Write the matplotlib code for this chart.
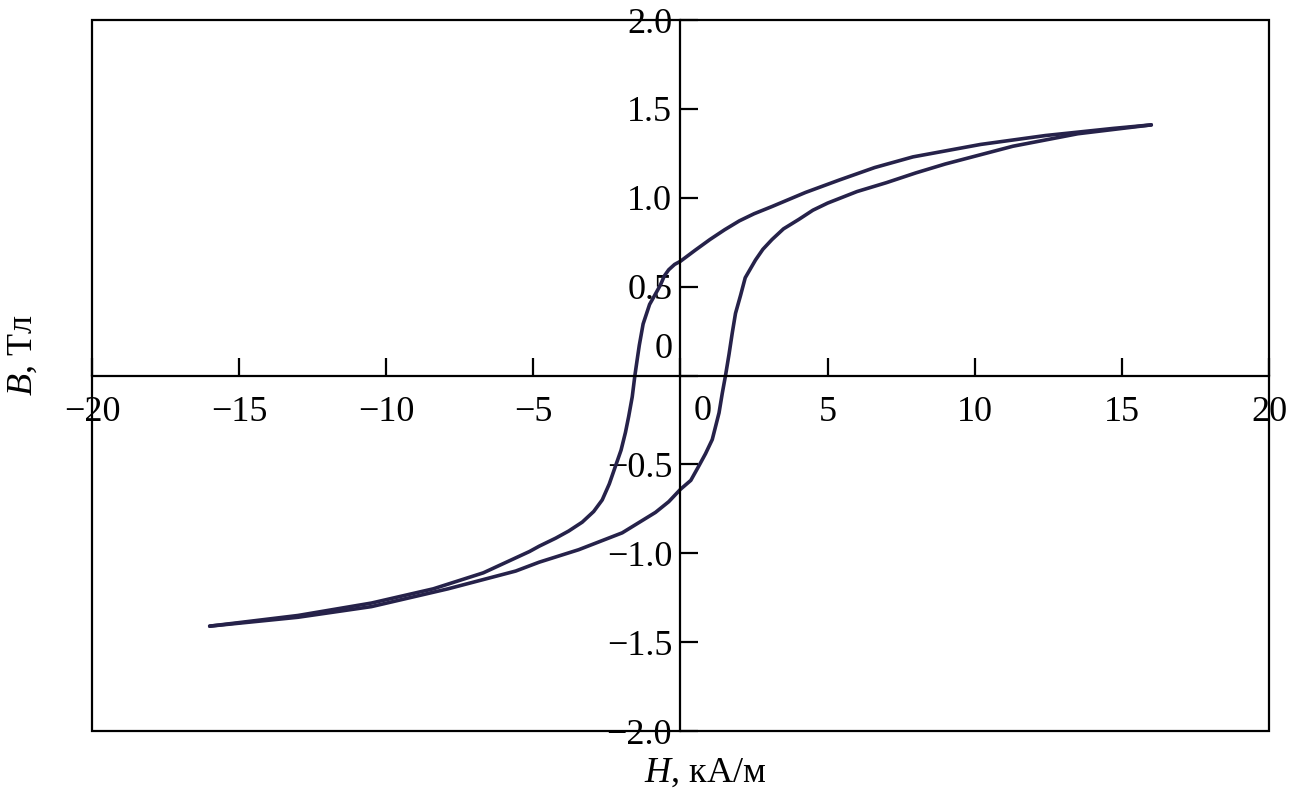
import matplotlib
matplotlib.use("Agg")
import matplotlib.pyplot as plt
from matplotlib.patches import Rectangle
from matplotlib.ticker import FixedLocator, FuncFormatter

plt.rcParams['font.family'] = ['Liberation Serif', 'DejaVu Serif']
plt.rcParams['mathtext.fontset'] = 'custom'
plt.rcParams['mathtext.rm'] = 'Liberation Serif'
plt.rcParams['mathtext.it'] = 'Liberation Serif:italic'

# descending branch (upper), from +Hmax to -Hmax, H in kA/m, B in T
h_down = [16.0, 14.7, 12.4, 10.2, 7.9, 6.6, 5.4, 4.25, 3.1, 2.5, 2.0, 1.5, 1.0,
          0.5, 0.0, -0.2, -0.4, -0.55, -0.68, -0.88, -1.05, -1.27, -1.40, -1.48,
          -1.55, -1.64, -1.76, -1.87, -2.02, -2.21, -2.42, -2.66, -2.95, -3.34,
          -3.8, -4.24, -4.8, -5.13, -6.7, -8.4, -10.5, -13.0, -16.0]
b_down = [1.41, 1.39, 1.35, 1.30, 1.23, 1.17, 1.10, 1.03, 0.95, 0.91, 0.87, 0.82,
          0.765, 0.705, 0.643, 0.625, 0.595, 0.56, 0.51, 0.45, 0.40, 0.29, 0.17,
          0.08, 0.0, -0.12, -0.23, -0.32, -0.42, -0.51, -0.61, -0.70, -0.765,
          -0.825, -0.875, -0.915, -0.96, -0.99, -1.11, -1.20, -1.28, -1.35, -1.41]

# ascending branch (lower), from -Hmax to +Hmax
h_up = [-16.0, -13.0, -10.5, -7.9, -5.6, -4.8, -3.46, -1.98, -0.85, -0.4, 0.0,
        0.35, 0.62, 0.85, 1.08, 1.31, 1.42, 1.53, 1.65, 1.76, 1.87, 2.04, 2.2,
        2.55, 2.8, 3.11, 3.5, 4.02, 4.5, 5.0, 6.0, 7.0, 8.0, 9.0, 11.3, 13.5, 16.0]
b_up = [-1.41, -1.36, -1.30, -1.20, -1.10, -1.05, -0.98, -0.885, -0.77, -0.71,
        -0.64, -0.59, -0.51, -0.44, -0.36, -0.21, -0.10, 0.0, 0.12, 0.24, 0.35,
        0.45, 0.55, 0.65, 0.71, 0.765, 0.825, 0.878, 0.93, 0.97, 1.035, 1.085,
        1.14, 1.19, 1.29, 1.36, 1.41]

x_ticks = [-20, -15, -10, -5, 0, 5, 10, 15, 20]
y_ticks = [-2.0, -1.5, -1.0, -0.5, 0.0, 0.5, 1.0, 1.5, 2.0]

fig = plt.figure(figsize=(13.01, 8.10), dpi=100)
ax = fig.add_axes([0.0707, 0.0975, 0.9047, 0.8778])

line_color = '#26224a'
ax.plot(h_down, b_down, color=line_color, lw=2.6, solid_joinstyle='round',
        solid_capstyle='round')
ax.plot(h_up, b_up, color=line_color, lw=2.6, solid_joinstyle='round',
        solid_capstyle='round')

ax.set_xlim(-20, 20)
ax.set_ylim(-2.0, 2.0)

ax.spines['left'].set_position('zero')
ax.spines['bottom'].set_position('zero')
ax.spines['top'].set_visible(False)
ax.spines['right'].set_visible(False)
for s in ('left', 'bottom'):
    ax.spines[s].set_linewidth(1.6)

# outer frame
ax.add_patch(Rectangle((0, 0), 1, 1, transform=ax.transAxes, fill=False,
                       lw=1.6, edgecolor='black', clip_on=False, zorder=3))

ax.xaxis.set_major_locator(FixedLocator(x_ticks))
ax.yaxis.set_major_locator(FixedLocator(y_ticks))
ax.xaxis.set_major_formatter(FuncFormatter(
    lambda v, p: '' if v == 0 else f'{v:.0f}'.replace('-', '\u2212')))
ax.yaxis.set_major_formatter(FuncFormatter(
    lambda v, p: '' if v == 0 else f'{v:.1f}'.replace('-', '\u2212')))
ax.tick_params(axis='x', direction='in', length=13, width=1.6, labelsize=26, pad=15)
ax.tick_params(axis='y', direction='in', length=13, width=1.6, labelsize=26, pad=6)

# zero labels placed by hand
ax.text(-0.58, 0.146, '0', fontsize=26, ha='center', va='center')
ax.text(0.75, -0.2, '0', fontsize=26, ha='center', va='center')

fig.text(0.542, 0.046, '$H$, кА/м', fontsize=26, ha='center', va='center')
fig.text(0.018, 0.562, '$B$, Тл', fontsize=26, ha='center', va='center',
         rotation=90)

fig.savefig('out.png', dpi=100)
